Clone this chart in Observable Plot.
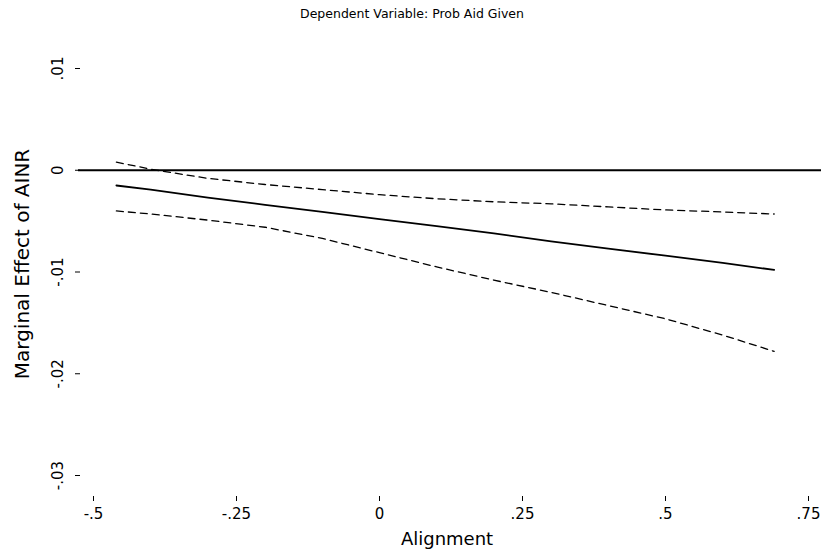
<!DOCTYPE html>
<html>
<head>
<meta charset="utf-8">
<script src="https://cdn.jsdelivr.net/npm/d3@7"></script>
<script src="https://cdn.jsdelivr.net/npm/@observablehq/plot@0.6"></script>
<style>
  html, body { margin: 0; padding: 0; background: #fff; }
  #chart svg { display: block; }
</style>
</head>
<body>
<div id="chart"></div>
<script>
const titleText = "Dependent Variable: Prob Aid Given";
const xLabel = "Alignment";
const yLabel = "Marginal Effect of AINR";

const xTicks = [-0.5, -0.25, 0, 0.25, 0.5, 0.75];
const xTickLabels = ["-.5", "-.25", "0", ".25", ".5", ".75"];
const yTicks = [0.01, 0, -0.01, -0.02, -0.03];
const yTickLabels = [".01", "0", "-.01", "-.02", "-.03"];

const alignment = [-0.46, -0.4, -0.3, -0.2, -0.1, 0, 0.1, 0.2, 0.3, 0.4, 0.5, 0.6, 0.69];
const effect    = [-0.0015, -0.0019, -0.0027, -0.0034, -0.0041, -0.0048, -0.0055, -0.0062, -0.0070, -0.0077, -0.0084, -0.0091, -0.0098];
const upperCI   = [0.0008, 0.0001, -0.0008, -0.0014, -0.0019, -0.0024, -0.0028, -0.0031, -0.0033, -0.0036, -0.0039, -0.0041, -0.0043];
const lowerCI   = [-0.0040, -0.0043, -0.0049, -0.0056, -0.0067, -0.0081, -0.0095, -0.0108, -0.0120, -0.0133, -0.0146, -0.0162, -0.0178];

const rows = alignment.map((a, i) => ({a, est: effect[i], hi: upperCI[i], lo: lowerCI[i]}));
const font = "DejaVu Sans, sans-serif";

const chart = Plot.plot({
  width: 821,
  height: 554,
  marginLeft: 93,
  marginRight: 13,
  marginTop: 68,
  marginBottom: 79,
  style: {fontFamily: font, background: "#fff", color: "#000"},
  x: {domain: [-0.5, 0.75], axis: null},
  y: {domain: [-0.03, 0.01], axis: null},
  marks: [
    Plot.ruleY([0], {stroke: "#000", strokeWidth: 1.8, insetLeft: -15, insetRight: -13}),
    Plot.line(rows, {x: "a", y: "hi", stroke: "#000", strokeWidth: 1.3, strokeDasharray: "7,5"}),
    Plot.line(rows, {x: "a", y: "lo", stroke: "#000", strokeWidth: 1.3, strokeDasharray: "7,5"}),
    Plot.line(rows, {x: "a", y: "est", stroke: "#000", strokeWidth: 1.8}),
    Plot.axisX({
      ticks: xTicks,
      tickFormat: d => xTickLabels[xTicks.indexOf(d)],
      tickSize: 5,
      tickPadding: 7,
      dy: 21,
      fontSize: 15,
      label: null
    }),
    Plot.axisY({
      ticks: yTicks,
      tickFormat: d => yTickLabels[yTicks.indexOf(d)],
      tickSize: 5,
      tickRotate: -90,
      tickPadding: 13,
      dx: -13,
      fontSize: 15,
      label: null
    }),
    Plot.text([titleText], {frameAnchor: "top", textAnchor: "middle", dx: -39, dy: -55, lineAnchor: "middle", fontSize: 12.5, fill: "#000"}),
    Plot.text([xLabel], {frameAnchor: "bottom", textAnchor: "middle", dx: -4, dy: 64, lineAnchor: "middle", fontSize: 18, fill: "#000"}),
    Plot.text([yLabel], {frameAnchor: "left", textAnchor: "middle", rotate: -90, dx: -71, dy: -8, lineAnchor: "middle", fontSize: 20, fill: "#000"})
  ]
});
document.getElementById("chart").append(chart);
</script>
</body>
</html>
